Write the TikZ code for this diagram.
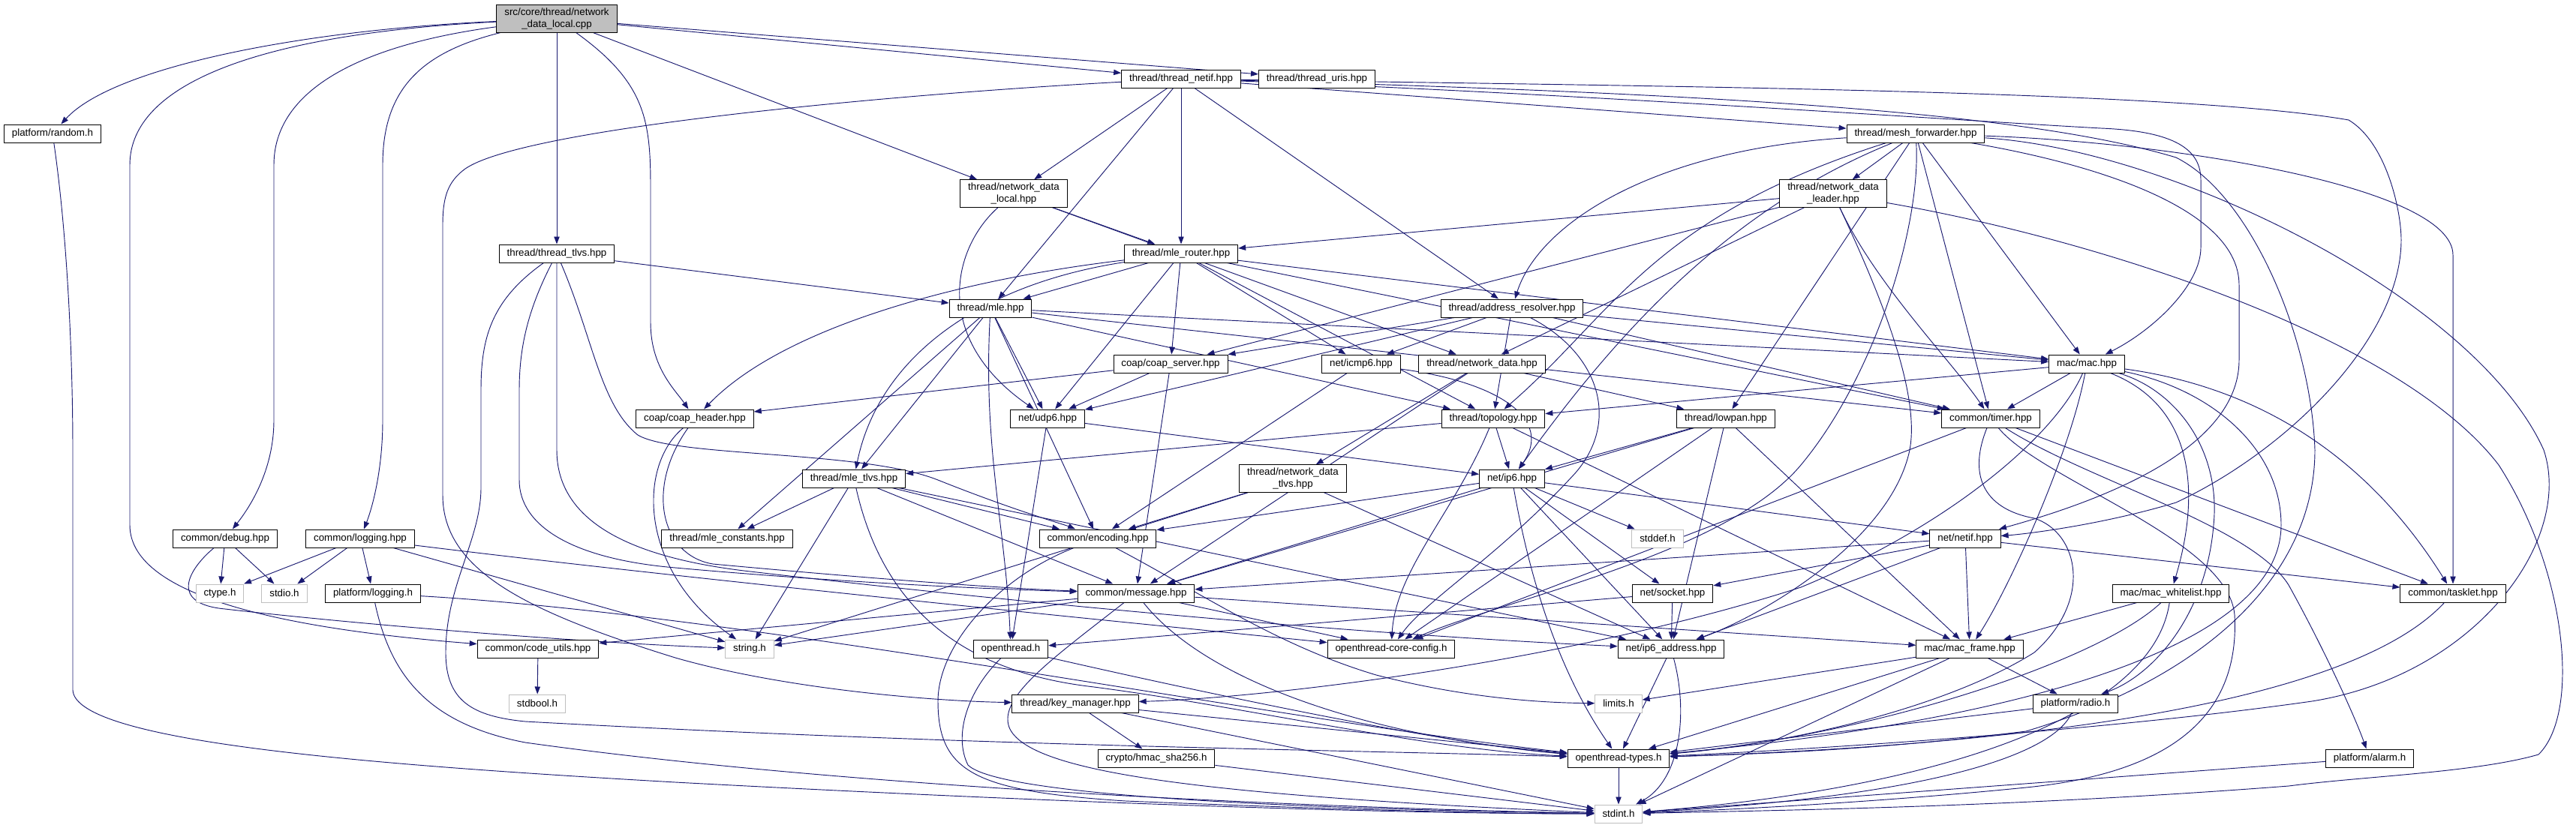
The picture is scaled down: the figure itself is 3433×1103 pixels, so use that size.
\documentclass[tikz,border=0pt]{standalone}
\usepackage{fontspec}
\setmainfont{Liberation Sans}
\usetikzlibrary{arrows.meta}
\pgfdeclarelayer{background}
\pgfsetlayers{background,main}
\definecolor{edgecol}{HTML}{191970}
\definecolor{sysgray}{HTML}{BFBFBF}
\begin{document}
\begin{tikzpicture}[x=0.75pt,y=-0.75pt,
  hdr/.style={draw=black,line width=0.75pt,fill=white,rectangle,align=center,inner xsep=7.8pt,inner ysep=3.2pt,minimum height=18pt,font=\fontsize{10pt}{11.5pt}\selectfont},
  sys/.style={hdr,draw=sysgray},
  dep/.style={draw=edgecol,line width=0.7pt,-{Triangle[length=7.5pt,width=5.5pt]}}]
\useasboundingbox (0,0) rectangle (3433,1103);
% nodes
\node[hdr,fill=sysgray] (root) at (742,25) {src/core/thread/network\\\_data\_local.cpp};
\node[hdr] (random) at (70,178) {platform/random.h};
\node[hdr] (tlvs) at (742,338) {thread/thread\_tlvs.hpp};
\node[hdr] (netifT) at (1574,105) {thread/thread\_netif.hpp};
\node[hdr] (uris) at (1755,105) {thread/thread\_uris.hpp};
\node[hdr] (ndlocal) at (1351,258) {thread/network\_data\\\_local.hpp};
\node[hdr] (meshf) at (2553,178) {thread/mesh\_forwarder.hpp};
\node[hdr] (ndleader) at (2443,258) {thread/network\_data\\\_leader.hpp};
\node[hdr] (mler) at (1574,338) {thread/mle\_router.hpp};
\node[hdr] (mle) at (1320,411) {thread/mle.hpp};
\node[hdr] (addr) at (2015,411) {thread/address\_resolver.hpp};
\node[hdr] (cserver) at (1560,485) {coap/coap\_server.hpp};
\node[hdr] (icmp6) at (1814,485) {net/icmp6.hpp};
\node[hdr] (ndata) at (1975,485) {thread/network\_data.hpp};
\node[hdr] (mac) at (2781,485) {mac/mac.hpp};
\node[hdr] (cheader) at (926,558) {coap/coap\_header.hpp};
\node[hdr] (udp6) at (1396,558) {net/udp6.hpp};
\node[hdr] (topo) at (1990,558) {thread/topology.hpp};
\node[hdr] (lowpan) at (2300,558) {thread/lowpan.hpp};
\node[hdr] (timer) at (2653,558) {common/timer.hpp};
\node[hdr] (mletlvs) at (1138,638) {thread/mle\_tlvs.hpp};
\node[hdr] (ip6) at (2015,638) {net/ip6.hpp};
\node[hdr] (ndtlvs) at (1723,638) {thread/network\_data\\\_tlvs.hpp};
\node[hdr] (debug) at (300,718) {common/debug.hpp};
\node[hdr] (logging) at (480,718) {common/logging.hpp};
\node[hdr] (mlec) at (969,718) {thread/mle\_constants.hpp};
\node[hdr] (enc) at (1463,718) {common/encoding.hpp};
\node[sys] (stddef) at (2209,718) {stddef.h};
\node[hdr] (netif) at (2619,718) {net/netif.hpp};
\node[sys] (ctype) at (293,791) {ctype.h};
\node[sys] (stdio) at (379,791) {stdio.h};
\node[hdr] (plog) at (497,791) {platform/logging.h};
\node[hdr] (msg) at (1514,791) {common/message.hpp};
\node[hdr] (socket) at (2229,791) {net/socket.hpp};
\node[hdr] (whitelist) at (2893,791) {mac/mac\_whitelist.hpp};
\node[hdr] (tasklet) at (3269,791) {common/tasklet.hpp};
\node[hdr] (cutils) at (717,865) {common/code\_utils.hpp};
\node[sys] (strh) at (999,865) {string.h};
\node[hdr] (oth) at (1347,865) {openthread.h};
\node[hdr] (coreconf) at (1854,865) {openthread-core-config.h};
\node[hdr] (ip6addr) at (2227,865) {net/ip6\_address.hpp};
\node[hdr] (macframe) at (2625,865) {mac/mac\_frame.hpp};
\node[sys] (stdbool) at (716,938) {stdbool.h};
\node[hdr] (keymgr) at (1433,938) {thread/key\_manager.hpp};
\node[sys] (limits) at (2157,938) {limits.h};
\node[hdr] (radio) at (2766,938) {platform/radio.h};
\node[hdr] (hmac) at (1541,1011) {crypto/hmac\_sha256.h};
\node[hdr] (ottypes) at (2157,1011) {openthread-types.h};
\node[hdr] (alarm) at (3158,1011) {platform/alarm.h};
\node[sys] (stdint) at (2157,1085) {stdint.h};
% edges
\begin{pgfonlayer}{background}
\foreach \a/\b in {root/tlvs,root/ndlocal,root/netifT,root/uris,
  debug/ctype,debug/stdio,logging/ctype,logging/stdio,logging/plog,logging/strh,
  cutils/stdbool,tlvs/mle,
  netifT/ndlocal,netifT/mle,netifT/mler,netifT/addr,netifT/meshf,
  ndlocal/mler,ndlocal/ndata,
  ndleader/mler,ndleader/cserver,ndleader/ndata,
  meshf/ndleader,meshf/lowpan,meshf/mac,meshf/timer,
  mler/mle,mler/cserver,mler/udp6,mler/icmp6,mler/topo,mler/timer,mler/mac,
  mle/enc,mle/udp6,mle/mlec,mle/topo,mle/mac,mle/timer,mle/mletlvs,
  addr/cserver,addr/udp6,addr/icmp6,addr/topo,addr/timer,addr/mac,
  cserver/cheader,cserver/udp6,cserver/msg,
  udp6/oth,udp6/ip6,icmp6/enc,
  ndata/ndtlvs,ndata/lowpan,ndata/msg,
  ndtlvs/enc,ndtlvs/strh,ndtlvs/ip6addr,
  mletlvs/mlec,mletlvs/strh,mletlvs/msg,mletlvs/enc,mletlvs/ip6addr,
  topo/mletlvs,topo/ip6,topo/macframe,
  lowpan/ip6,lowpan/msg,lowpan/coreconf,lowpan/ip6addr,lowpan/macframe,
  ip6/enc,ip6/msg,ip6/stddef,ip6/socket,ip6/ip6addr,ip6/netif,
  socket/ip6addr,socket/oth,
  timer/tasklet,timer/coreconf,
  netif/msg,netif/socket,netif/ip6addr,netif/macframe,netif/tasklet,
  msg/strh,msg/cutils,msg/macframe,msg/coreconf,
  keymgr/hmac,keymgr/ottypes,keymgr/stdint,
  hmac/stdint,ip6addr/ottypes,ottypes/stdint,
  macframe/limits,macframe/ottypes,macframe/stdint,macframe/radio,
  radio/ottypes,alarm/stdint,
  mac/timer,mac/topo,whitelist/macframe}
  \draw[dep] (\a) -- (\b);
% root
\draw[dep] (root) .. controls (400,40) and (150,90) .. (random);
\draw[dep] (root) .. controls (350,45) and (173,110) .. (173,220) -- (173,700) .. controls (173,800) and (400,840) .. (cutils);
\draw[dep] (root) .. controls (480,60) and (365,120) .. (365,220) -- (365,560) .. controls (365,630) and (330,680) .. (debug);
\draw[dep] (root) .. controls (560,70) and (510,120) .. (510,220) -- (510,560) .. controls (510,630) and (495,680) .. (logging);
\draw[dep] (root) .. controls (860,110) and (867,160) .. (867,250) -- (867,430) .. controls (867,490) and (900,520) .. (cheader);
% random
\draw[dep] (random) .. controls (92,330) and (97,500) .. (97,600) -- (97,920) .. controls (100,990) and (500,1020) .. (900,1043) .. controls (1500,1075) and (1900,1085) .. (stdint);
% debug, logging, platform logging
\draw[dep] (debug) .. controls (250,760) and (225,805) .. (300,812) .. controls (500,835) and (800,858) .. (strh);
\draw[dep] (logging) .. controls (900,770) and (1500,830) .. (coreconf);
\draw[dep] (plog) .. controls (1000,820) and (1700,960) .. (ottypes);
\draw[dep] (plog) .. controls (520,900) and (570,965) .. (700,990) .. controls (1200,1060) and (1900,1080) .. (stdint);
% thread_tlvs
\draw[dep] (tlvs) .. controls (655,400) and (641,450) .. (641,520) -- (641,650) .. controls (641,720) and (594,780) .. (594,870) .. controls (594,935) and (630,955) .. (700,962) .. controls (1300,995) and (1800,1000) .. (ottypes);
\draw[dep] (tlvs) .. controls (705,410) and (692,460) .. (692,520) -- (692,640) .. controls (692,700) and (760,745) .. (900,757) .. controls (1100,775) and (1300,785) .. (msg);
\draw[dep] (tlvs) -- (742,600) .. controls (742,700) and (850,745) .. (1000,762) .. controls (1500,820) and (1900,850) .. (ip6addr);
\draw[dep] (tlvs) .. controls (790,450) and (800,540) .. (850,580) .. controls (900,610) and (1150,600) .. (1250,640) .. controls (1350,680) and (1420,700) .. (enc);
% thread_netif
\draw[dep] (netifT) .. controls (1200,125) and (700,170) .. (620,225) .. controls (597,242) and (590,262) .. (590,300) -- (590,660) .. controls (590,760) and (700,815) .. (900,877) .. controls (1050,920) and (1250,935) .. (keymgr);
\draw[dep] (netifT) .. controls (2200,115) and (2900,120) .. (3130,160) .. controls (3180,190) and (3200,280) .. (3200,320) .. controls (3200,450) and (3050,600) .. (2900,670) .. controls (2800,700) and (2700,712) .. (netif);
\draw[dep] (netifT) .. controls (2100,125) and (2600,160) .. (2800,171) .. controls (2900,175) and (2933,200) .. (2933,240) -- (2933,330) .. controls (2933,380) and (2870,440) .. (mac);
\draw[dep] (netifT) .. controls (2300,125) and (2700,150) .. (2900,210) .. controls (3000,260) and (3080,450) .. (3085,600) .. controls (3085,760) and (2950,900) .. (2700,975) .. controls (2500,1000) and (2350,1005) .. (ottypes);
% misc upper
\draw[dep] (ndlocal) .. controls (1270,330) and (1240,450) .. (udp6);
\draw[dep] (mler) .. controls (1300,370) and (1050,430) .. (cheader);
\draw[dep] (mler) .. controls (1300,380) and (1170,480) .. (mletlvs);
\draw[dep] (mle) .. controls (1310,600) and (1340,700) .. (oth);
\draw[dep] (cheader) .. controls (850,620) and (850,760) .. (strh);
\draw[dep] (cheader) .. controls (860,650) and (880,740) .. (950,752) .. controls (1200,775) and (1350,785) .. (msg);
\draw[dep] (addr) .. controls (2130,470) and (2160,560) .. (2100,630) .. controls (2000,740) and (1900,800) .. (coreconf);
\draw[dep] (icmp6) .. controls (2000,510) and (2070,560) .. (ip6);
\draw[dep] (topo) .. controls (1940,680) and (1860,760) .. (coreconf);
% network data leader
\draw[dep] (ndleader) .. controls (2500,380) and (2560,520) .. (2545,600) .. controls (2520,720) and (2350,820) .. (ip6addr);
\draw[dep] (ndleader) .. controls (2500,380) and (2600,480) .. (timer);
\draw[dep] (ndleader) .. controls (2800,320) and (3200,450) .. (3330,620) .. controls (3420,760) and (3440,950) .. (3383,1006) .. controls (3300,1030) and (3150,1035) .. (3050,1048) .. controls (2700,1075) and (2400,1080) .. (stdint);
% mesh forwarder
\draw[dep] (meshf) .. controls (2200,200) and (2050,300) .. (addr);
\draw[dep] (meshf) .. controls (2200,290) and (2150,420) .. (topo);
\draw[dep] (meshf) .. controls (2300,280) and (2150,450) .. (ip6);
\draw[dep] (meshf) .. controls (2560,300) and (2500,500) .. (2400,620) .. controls (2300,740) and (2000,800) .. (coreconf);
\draw[dep] (meshf) .. controls (2800,220) and (2984,280) .. (2984,380) -- (2984,480) .. controls (2984,560) and (2900,640) .. (netif);
\draw[dep] (meshf) .. controls (2900,190) and (3269,250) .. (3269,340) -- (tasklet);
\draw[dep] (meshf) .. controls (2900,200) and (3300,400) .. (3390,600) .. controls (3430,720) and (3300,900) .. (3081,935) .. controls (2800,975) and (2400,1000) .. (ottypes);
% timer
\draw[dep] (timer) .. controls (2720,640) and (2970,720) .. (2978,820) .. controls (2985,950) and (2900,1030) .. (2700,1050) .. controls (2500,1070) and (2300,1080) .. (stdint);
\draw[dep] (timer) .. controls (2620,640) and (2650,680) .. (2711,691) .. controls (2770,710) and (2790,800) .. (2711,870) .. controls (2600,940) and (2400,990) .. (ottypes);
\draw[dep] (timer) .. controls (2780,640) and (3000,700) .. (3050,780) .. controls (3100,870) and (3140,960) .. (alarm);
% mac
\draw[dep] (mac) .. controls (2920,540) and (2935,650) .. (whitelist);
\draw[dep] (mac) .. controls (2900,520) and (2960,600) .. (2950,700) .. controls (2940,820) and (2870,900) .. (radio);
\draw[dep] (mac) .. controls (3000,515) and (3150,600) .. (tasklet);
\draw[dep] (mac) .. controls (2950,520) and (3040,600) .. (3040,700) .. controls (3040,860) and (2700,960) .. (ottypes);
\draw[dep] (mac) .. controls (2740,580) and (2600,700) .. (2400,783) .. controls (2100,880) and (1700,930) .. (keymgr);
\draw[dep] (mac) .. controls (2760,600) and (2680,780) .. (macframe);
% lower
\draw[dep] (whitelist) .. controls (2870,950) and (2600,1050) .. (stdint);
\draw[dep] (whitelist) .. controls (2800,880) and (2500,980) .. (ottypes);
\draw[dep] (radio) .. controls (2740,1000) and (2600,1060) .. (stdint);
\draw[dep] (tasklet) .. controls (3150,920) and (2800,990) .. (ottypes);
\draw[dep] (enc) .. controls (1330,770) and (1250,860) .. (1250,935) .. controls (1250,1030) and (1300,1055) .. (1500,1068) .. controls (1800,1080) and (2000,1085) .. (stdint);
\draw[dep] (enc) .. controls (1600,790) and (1700,860) .. (1834,900) .. controls (1950,930) and (2050,937) .. (limits);
\draw[dep] (msg) .. controls (1400,880) and (1330,930) .. (1345,970) .. controls (1370,1030) and (1600,1060) .. (stdint);
\draw[dep] (msg) .. controls (1600,900) and (1800,980) .. (ottypes);
\draw[dep] (oth) .. controls (1290,920) and (1270,980) .. (1290,1020) .. controls (1330,1060) and (1700,1078) .. (stdint);
\draw[dep] (oth) .. controls (1500,900) and (1900,990) .. (ottypes);
\draw[dep] (ip6addr) .. controls (2250,950) and (2240,1040) .. (stdint);
\draw[dep] (mletlvs) .. controls (1170,780) and (1250,890) .. (1450,915) .. controls (1650,940) and (1900,1000) .. (ottypes);
\draw[dep] (ip6) .. controls (2040,780) and (2080,900) .. (ottypes);
\end{pgfonlayer}
\end{tikzpicture}
\end{document}
